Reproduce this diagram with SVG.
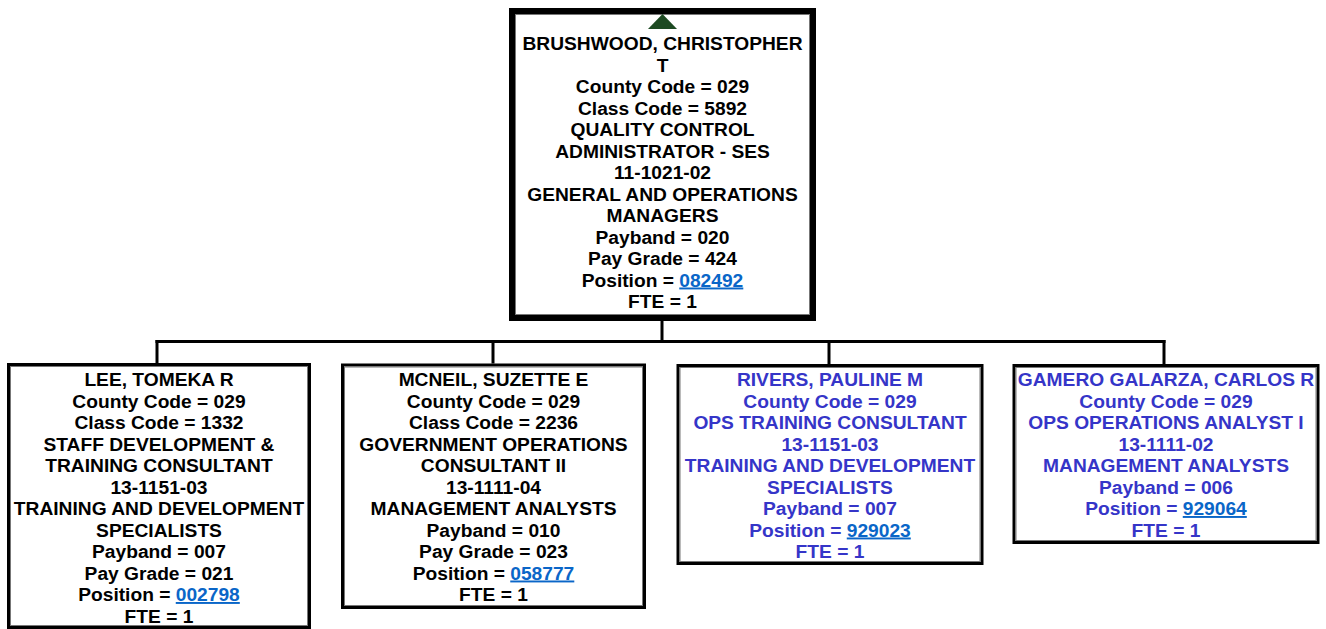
<svg xmlns="http://www.w3.org/2000/svg" width="1326" height="629" viewBox="0 0 1326 629">
  <style>
    .t { font-family: "Liberation Sans", Arial, sans-serif; font-size: 19.2px; font-weight: bold; text-anchor: middle; fill: #000; }
    .b { fill: #3535C8; }
    .lnk { fill: #0A66C8; text-decoration: underline; }
    .frame { fill: #fff; stroke: #000; }
    .bevel { fill: none; stroke: #777; stroke-width: 1; }
    .conn { fill: none; stroke: #000; stroke-width: 3; stroke-linecap: square; }
  </style>

  <rect width="1326" height="629" fill="#fff"/>

  <!-- connectors -->
  <g id="connectors">
    <path class="conn" d="M662,321 V341.5"/>
    <path class="conn" d="M157,341.5 H1164"/>
    <path class="conn" d="M157,341.5 V362"/>
    <path class="conn" d="M493,341.5 V362"/>
    <path class="conn" d="M829,341.5 V363"/>
    <path class="conn" d="M1164,341.5 V363"/>
  </g>

  <!-- manager -->
  <g id="node-brushwood">
    <rect class="frame" x="512" y="11" width="301" height="307" stroke-width="6"/>
    <rect class="bevel" x="515.5" y="14.5" width="294" height="300"/>
    <polygon points="648,29 677,29 662.5,14" fill="#1d4a22"/>
    <text class="t" x="662.5" y="50">BRUSHWOOD, CHRISTOPHER</text>
    <text class="t" x="662.5" y="71.5">T</text>
    <text class="t" x="662.5" y="93">County Code = 029</text>
    <text class="t" x="662.5" y="114.5">Class Code = 5892</text>
    <text class="t" x="662.5" y="136">QUALITY CONTROL</text>
    <text class="t" x="662.5" y="157.5">ADMINISTRATOR - SES</text>
    <text class="t" x="662.5" y="179">11-1021-02</text>
    <text class="t" x="662.5" y="200.5">GENERAL AND OPERATIONS</text>
    <text class="t" x="662.5" y="222">MANAGERS</text>
    <text class="t" x="662.5" y="243.5">Payband = 020</text>
    <text class="t" x="662.5" y="265">Pay Grade = 424</text>
    <text class="t" x="662.5" y="286.5">Position = <tspan class="lnk">082492</tspan></text>
    <text class="t" x="662.5" y="308">FTE = 1</text>
  </g>

  <!-- staff -->
  <g id="node-lee">
    <rect class="frame" x="8.5" y="364.5" width="301" height="263" stroke-width="3"/>
    <rect class="bevel" x="10.5" y="366.5" width="297" height="259"/>
    <text class="t" x="159" y="386">LEE, TOMEKA R</text>
    <text class="t" x="159" y="407.5">County Code = 029</text>
    <text class="t" x="159" y="429">Class Code = 1332</text>
    <text class="t" x="159" y="450.5">STAFF DEVELOPMENT &amp;</text>
    <text class="t" x="159" y="472">TRAINING CONSULTANT</text>
    <text class="t" x="159" y="493.5">13-1151-03</text>
    <text class="t" x="159" y="515">TRAINING AND DEVELOPMENT</text>
    <text class="t" x="159" y="536.5">SPECIALISTS</text>
    <text class="t" x="159" y="558">Payband = 007</text>
    <text class="t" x="159" y="579.5">Pay Grade = 021</text>
    <text class="t" x="159" y="601">Position = <tspan class="lnk">002798</tspan></text>
    <text class="t" x="159" y="622.5">FTE = 1</text>
  </g>

  <g id="node-mcneil">
    <rect class="frame" x="342.5" y="365" width="302" height="242.5" stroke-width="3"/>
    <rect class="bevel" x="344.5" y="367" width="298" height="238.5"/>
    <text class="t" x="493.5" y="386">MCNEIL, SUZETTE E</text>
    <text class="t" x="493.5" y="407.5">County Code = 029</text>
    <text class="t" x="493.5" y="429">Class Code = 2236</text>
    <text class="t" x="493.5" y="450.5">GOVERNMENT OPERATIONS</text>
    <text class="t" x="493.5" y="472">CONSULTANT II</text>
    <text class="t" x="493.5" y="493.5">13-1111-04</text>
    <text class="t" x="493.5" y="515">MANAGEMENT ANALYSTS</text>
    <text class="t" x="493.5" y="536.5">Payband = 010</text>
    <text class="t" x="493.5" y="558">Pay Grade = 023</text>
    <text class="t" x="493.5" y="579.5">Position = <tspan class="lnk">058777</tspan></text>
    <text class="t" x="493.5" y="601">FTE = 1</text>
  </g>

  <g id="node-rivers">
    <rect class="frame" x="678" y="365.5" width="304" height="198" stroke-width="3"/>
    <rect class="bevel" x="680" y="367.5" width="300" height="194"/>
    <text class="t b" x="830" y="386">RIVERS, PAULINE M</text>
    <text class="t b" x="830" y="407.5">County Code = 029</text>
    <text class="t b" x="830" y="429">OPS TRAINING CONSULTANT</text>
    <text class="t b" x="830" y="450.5">13-1151-03</text>
    <text class="t b" x="830" y="472">TRAINING AND DEVELOPMENT</text>
    <text class="t b" x="830" y="493.5">SPECIALISTS</text>
    <text class="t b" x="830" y="515">Payband = 007</text>
    <text class="t b" x="830" y="536.5">Position = <tspan class="lnk">929023</tspan></text>
    <text class="t b" x="830" y="558">FTE = 1</text>
  </g>

  <g id="node-gamero">
    <rect class="frame" x="1014" y="365.5" width="304" height="177" stroke-width="3"/>
    <rect class="bevel" x="1016" y="367.5" width="300" height="173"/>
    <text class="t b" x="1166" y="386">GAMERO GALARZA, CARLOS R</text>
    <text class="t b" x="1166" y="407.5">County Code = 029</text>
    <text class="t b" x="1166" y="429">OPS OPERATIONS ANALYST I</text>
    <text class="t b" x="1166" y="450.5">13-1111-02</text>
    <text class="t b" x="1166" y="472">MANAGEMENT ANALYSTS</text>
    <text class="t b" x="1166" y="493.5">Payband = 006</text>
    <text class="t b" x="1166" y="515">Position = <tspan class="lnk">929064</tspan></text>
    <text class="t b" x="1166" y="536.5">FTE = 1</text>
  </g>
</svg>
